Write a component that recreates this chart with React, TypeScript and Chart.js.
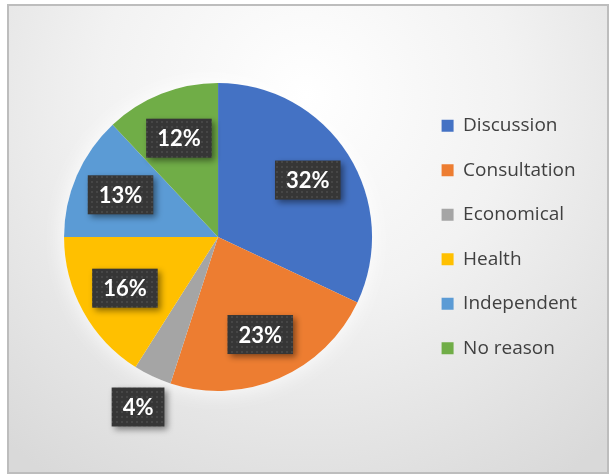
import { useEffect, useRef } from "react";
import { Chart, registerables } from "chart.js";
Chart.register(...registerables);

const categories = ["Discussion", "Consultation", "Economical", "Health", "Independent", "No reason"];
const shares = [32, 23, 4, 16, 13, 12];
const sliceColors = ["#4472C4", "#ED7D31", "#A5A5A5", "#FFC000", "#5B9BD5", "#70AD47"];

function makePattern(ctx: CanvasRenderingContext2D) {
  const c = document.createElement("canvas");
  c.width = 5;
  c.height = 5;
  const p = c.getContext("2d")!;
  p.fillStyle = "#363636";
  p.fillRect(0, 0, 5, 5);
  p.fillStyle = "#464646";
  p.fillRect(1, 1, 2, 2);
  return ctx.createPattern(c, "repeat")!;
}

const backgroundPlugin = {
  id: "bgBox",
  beforeDraw(chart: any) {
    const ctx = chart.ctx as CanvasRenderingContext2D;
    const w = chart.width, h = chart.height;
    ctx.save();
    ctx.fillStyle = "#ffffff";
    ctx.fillRect(0, 0, w, h);
    const g = ctx.createRadialGradient(w * 0.5, h * 0.2, 0, w * 0.5, h * 0.2, w * 0.75);
    g.addColorStop(0, "#ffffff");
    g.addColorStop(0.45, "#f2f2f2");
    g.addColorStop(1, "#d9d9d9");
    ctx.fillStyle = g;
    ctx.fillRect(8, 5, w - 12, h - 7);
    ctx.strokeStyle = "#bdbdbd";
    ctx.lineWidth = 2;
    ctx.strokeRect(8, 5, w - 12, h - 7);
    ctx.restore();
  },
  beforeDatasetsDraw(chart: any) {
    const arc = chart.getDatasetMeta(0).data[0];
    if (!arc) return;
    const { x, y, outerRadius } = arc.getProps(["x", "y", "outerRadius"], true);
    const ctx = chart.ctx as CanvasRenderingContext2D;
    ctx.save();
    ctx.shadowColor = "rgba(255,255,255,0.95)";
    ctx.shadowBlur = 22;
    ctx.fillStyle = "#ffffff";
    ctx.beginPath();
    ctx.arc(x, y, outerRadius, 0, Math.PI * 2);
    ctx.fill();
    ctx.restore();
  },
};

const labelPlugin = {
  id: "boxLabels",
  afterDatasetsDraw(chart: any) {
    const ctx = chart.ctx as CanvasRenderingContext2D;
    const meta = chart.getDatasetMeta(0);
    const data = chart.data.datasets[0].data as number[];
    const total = data.reduce((a, b) => a + b, 0);
    const pattern = makePattern(ctx);
    ctx.save();
    ctx.font = "bold 22px Lato";
    meta.data.forEach((arc: any, i: number) => {
      const { x, y, startAngle, endAngle, outerRadius } = arc.getProps(
        ["x", "y", "startAngle", "endAngle", "outerRadius"],
        true
      );
      const mid = (startAngle + endAngle) / 2;
      const frac = data[i] / total;
      const f = frac < 0.06 ? 1.22 : 0.69;
      const cx = x + Math.cos(mid) * outerRadius * f;
      const cy = y + Math.sin(mid) * outerRadius * f;
      const text = Math.round(frac * 100) + "%";
      const tw = ctx.measureText(text).width;
      const bw = tw + 22;
      const bh = 39;
      ctx.save();
      ctx.shadowColor = "rgba(0,0,0,0.45)";
      ctx.shadowBlur = 6;
      ctx.shadowOffsetX = 3;
      ctx.shadowOffsetY = 3;
      ctx.fillStyle = pattern;
      ctx.fillRect(cx - bw / 2, cy - bh / 2, bw, bh);
      ctx.restore();
      ctx.fillStyle = "#ffffff";
      ctx.textAlign = "center";
      ctx.textBaseline = "middle";
      ctx.fillText(text, cx, cy + 1);
    });
    ctx.restore();
  },
};

export default function App() {
  const ref = useRef<HTMLCanvasElement>(null);
  useEffect(() => {
    if (!ref.current) return;
    const chart = new Chart(ref.current, {
      type: "pie",
      data: {
        labels: categories,
        datasets: [
          {
            data: shares,
            backgroundColor: sliceColors,
            borderWidth: 0,
          },
        ],
      },
      options: {
        responsive: false,
        animation: false,
        layout: { padding: { left: 20, right: 25, top: 83, bottom: 84 } },
        plugins: {
          tooltip: { enabled: false },
          legend: {
            position: "right",
            labels: {
              boxWidth: 12,
              boxHeight: 12,
              padding: 25.5,
              color: "#404040",
              font: { family: "'Open Sans'", size: 19 },
            },
          },
        },
      },
      plugins: [backgroundPlugin, labelPlugin],
    });
    return () => chart.destroy();
  }, []);
  return (
    <div style={{ position: "fixed", left: 0, top: 0, width: 612, height: 475 }}>
      <canvas ref={ref} width={612} height={475} style={{ width: 612, height: 475 }} />
    </div>
  );
}
